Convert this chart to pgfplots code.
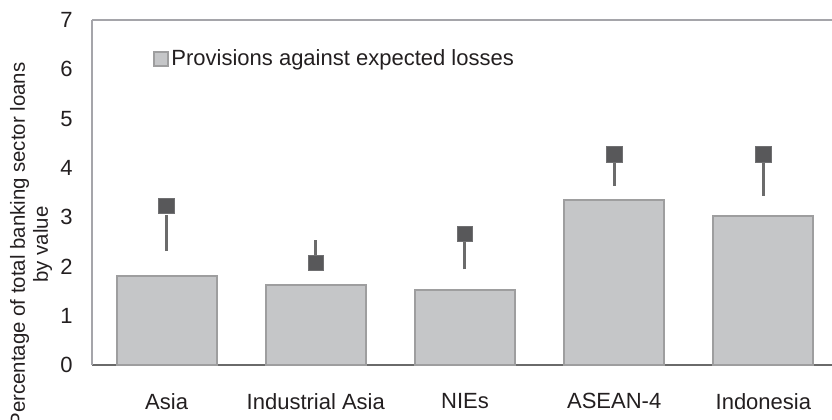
\documentclass[border=0pt]{standalone}
\usepackage{pgfplots}
\pgfplotsset{compat=1.18}
\usepackage{fontspec}
\setmainfont{Liberation Sans}
\definecolor{barfill}{HTML}{C5C6C8}
\definecolor{baredge}{HTML}{9E9E9F}
\definecolor{markfill}{HTML}{58585A}
\definecolor{markedge}{HTML}{707072}
\definecolor{rangeline}{HTML}{6B6B6B}
\definecolor{txt}{HTML}{231F20}
\definecolor{frame}{HTML}{A5A5AA}
\definecolor{baseax}{HTML}{6A6A6A}
\begin{document}
\begin{tikzpicture}
\path[use as bounding box] (-46pt,-27pt) rectangle (370pt,182.5pt);
\begin{axis}[
  at={(0,0)}, anchor=south west,
  scale only axis, width=370pt, height=172.5pt,
  xmin=-0.5, xmax=4.46, ymin=0, ymax=7,
  axis x line*=bottom, axis y line*=left,
  x axis line style={color=baseax, line width=1pt},
  y axis line style={color=frame, line width=1pt},
  xtick={0,1,2,3,4},
  xticklabels={Asia, Industrial Asia, NIEs, ASEAN-4, Indonesia},
  ytick={0,1,2,3,4,5,6,7},
  major tick length=0pt,
  /pgf/number format/assume math mode=true,
  tick label style={font=\fontsize{11}{13}\selectfont, text=txt},
  xticklabel style={anchor=north, inner sep=0pt, yshift=-14pt},
  yticklabel style={anchor=east, inner sep=0pt, xshift=-9.5pt},
  ylabel={Percentage of total banking sector loans\\by value},
  ylabel style={at={(axis description cs:-0.0824,0.878)}, anchor=east, inner sep=0pt, align=center,
    font=\fontsize{10.2}{11.5}\selectfont, text=txt},
  legend style={draw=none, fill=none, at={(axis description cs:0.082,0.888)}, anchor=west,
    inner sep=0pt, font=\fontsize{11}{13}\selectfont, text=txt,
    nodes={inner sep=1.2pt}},
  legend image code/.code={\draw[#1] (0pt,-3.5pt) rectangle (7pt,3.5pt);},
  clip=false,
]
\addplot[ybar, bar width=0.67, fill=barfill, draw=baredge, line width=1pt]
  coordinates {(0,1.81) (1,1.62) (2,1.52) (3,3.35) (4,3.02)};
\addlegendentry{Provisions against expected losses}
\addplot[forget plot, no marks, line width=1.5pt, color=rangeline] coordinates {(0,2.31) (0,3.04)};
\addplot[forget plot, no marks, line width=1.5pt, color=rangeline] coordinates {(1,2.23) (1,2.54)};
\addplot[forget plot, no marks, line width=1.5pt, color=rangeline] coordinates {(2,1.94) (2,2.49)};
\addplot[forget plot, no marks, line width=1.5pt, color=rangeline] coordinates {(3,3.63) (3,4.10)};
\addplot[forget plot, no marks, line width=1.5pt, color=rangeline] coordinates {(4,3.43) (4,4.10)};
\addplot[forget plot, only marks, mark=square*, mark size=3.9pt,
  mark options={fill=markfill, draw=markedge, line width=0.4pt}]
  coordinates {(0,3.23) (1,2.07) (2,2.66) (3,4.27) (4,4.27)};
\end{axis}
\draw[frame, line width=1pt] (0,172.5pt) -- (370pt,172.5pt);
\end{tikzpicture}
\end{document}
